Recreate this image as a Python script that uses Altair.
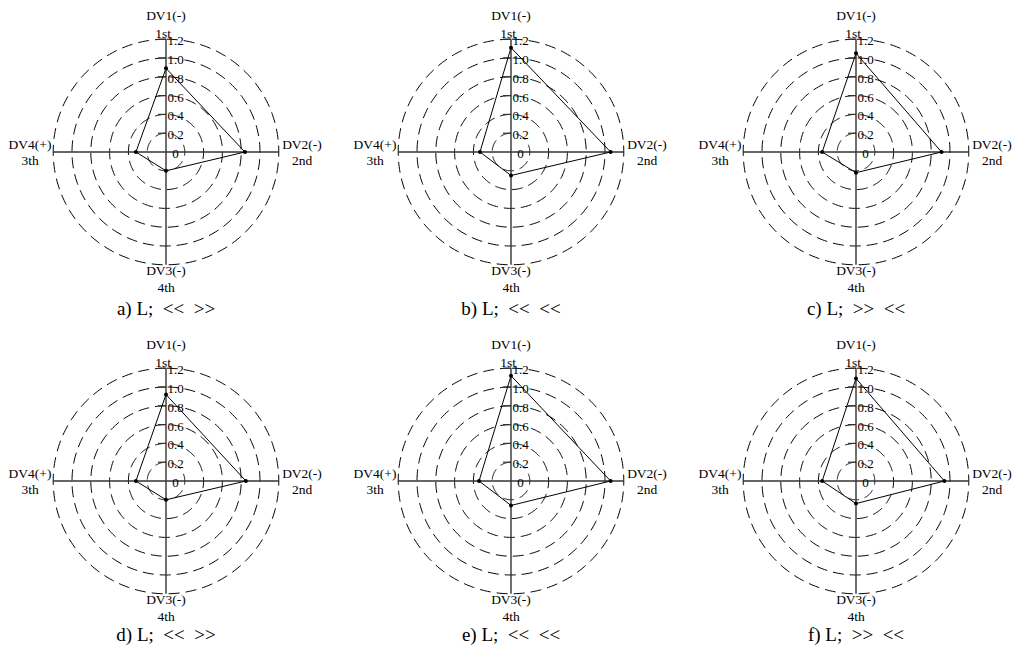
import altair as alt
import numpy as np
import pandas as pd

# ---------------- data ----------------
SP = "\u2002"
captions = ["a) L;" + SP + "<<" + SP + ">>", "b) L;" + SP + "<<" + SP + "<<",
            "c) L;" + SP + ">>" + SP + "<<", "d) L;" + SP + "<<" + SP + ">>",
            "e) L;" + SP + "<<" + SP + "<<", "f) L;" + SP + ">>" + SP + "<<"]
axis_names = ["DV1(-)", "DV2(-)", "DV3(-)", "DV4(+)"]
axis_ranks = ["1st", "2nd", "4th", "3th"]
axis_angles = [90, 0, 270, 180]          # degrees: top, right, bottom, left
ring_levels = [0.2, 0.4, 0.6, 0.8, 1.0, 1.2]
tick_values = [0.0, 0.2, 0.4, 0.6, 0.8, 1.0, 1.2]
tick_labels = ["0", "0.2", "0.4", "0.6", "0.8", "1.0", "1.2"]

dv1 = [0.89, 1.11, 1.05, 0.92, 1.12, 1.09]
dv2 = [0.84, 1.06, 0.91, 0.85, 1.06, 0.94]
dv3 = [0.20, 0.25, 0.22, 0.20, 0.26, 0.24]
dv4 = [0.32, 0.33, 0.36, 0.32, 0.34, 0.36]

FONT = "Liberation Serif"
R_MAX = 1.2
PX = 94.0  # pixels per unit


def panel(i, width, height):
    xdom = [-158 / PX, (width - 158) / PX]
    ydom = [-(height - 144) / PX, 144 / PX]
    xs = alt.Scale(domain=xdom, nice=False, zero=False)
    ys = alt.Scale(domain=ydom, nice=False, zero=False)
    X = lambda f: alt.X(f, scale=xs, axis=None)
    Y = lambda f: alt.Y(f, scale=ys, axis=None)

    # dashed concentric rings
    th = np.linspace(np.pi / 2, np.pi / 2 + 2 * np.pi, 241)
    rows = []
    for lv in ring_levels:
        for k, t in enumerate(th):
            rows.append({"ring": lv, "k": k, "x": lv * np.cos(t), "y": lv * np.sin(t)})
    rings = alt.Chart(pd.DataFrame(rows)).mark_line(
        color="black", strokeWidth=1, strokeDash=[11, 6]
    ).encode(x=X("x:Q"), y=Y("y:Q"), detail="ring:N", order="k:Q")

    # spokes
    sp = pd.DataFrame({
        "x": [0.0] * 4, "y": [0.0] * 4,
        "x2": [R_MAX * np.cos(np.radians(a)) for a in axis_angles],
        "y2": [R_MAX * np.sin(np.radians(a)) for a in axis_angles],
    })
    spokes = alt.Chart(sp).mark_rule(color="#333", strokeWidth=1.4).encode(
        x=X("x:Q"), y=Y("y:Q"), x2="x2:Q", y2="y2:Q")

    # tick marks on first spoke
    tk = pd.DataFrame({"y": ring_levels})
    tk["x"] = -8 / PX
    tk["x2"] = 0.0
    ticks = alt.Chart(tk).mark_rule(color="#333", strokeWidth=1.2).encode(
        x=X("x:Q"), x2="x2:Q", y=Y("y:Q"))

    # tick labels
    tl = pd.DataFrame({"v": tick_values, "t": tick_labels})
    tl["x"] = 9.5 / PX
    tlab = alt.Chart(tl).mark_text(
        font=FONT, fontSize=13, align="center", baseline="middle", dy=2, color="black"
    ).encode(x=X("x:Q"), y=Y("v:Q"), text="t:N")

    # axis names & ranks
    off1, off2 = 136 / PX, 118 / PX
    side = 7 / PX
    an = pd.DataFrame({
        "t": [axis_names[0], axis_ranks[0], axis_names[1], axis_ranks[1],
              axis_names[2], axis_ranks[2], axis_names[3], axis_ranks[3]],
        "x": [0, -3 / PX, off1, off1, 0, 0, -off1, -off1],
        "y": [off1, off2, side, -9 / PX, -off2 - 1 / PX, -off1, side, -9 / PX],
    })
    alab = alt.Chart(an).mark_text(
        font=FONT, fontSize=13.5, align="center", baseline="middle", color="black"
    ).encode(x=X("x:Q"), y=Y("y:Q"), text="t:N")

    # data polygon
    vals = [dv1[i], dv2[i], dv3[i], dv4[i]]
    pg = pd.DataFrame({
        "k": list(range(4)),
        "v": vals,
        "x": [v * np.cos(np.radians(a)) for v, a in zip(vals, axis_angles)],
        "y": [v * np.sin(np.radians(a)) for v, a in zip(vals, axis_angles)],
    })
    poly = alt.Chart(pg).mark_line(
        color="black", strokeWidth=1, interpolate="linear-closed"
    ).encode(x=X("x:Q"), y=Y("y:Q"), order="k:Q")
    pts = alt.Chart(pg).mark_circle(color="black", size=16, opacity=1).encode(
        x=X("x:Q"), y=Y("y:Q"))

    # caption
    cy = -163 / PX if i < 3 else -160 / PX
    cap = alt.Chart(pd.DataFrame({"t": [captions[i]], "x": [0.0], "y": [cy]})).mark_text(
        font=FONT, fontSize=19, align="center", baseline="alphabetic", color="black"
    ).encode(x=X("x:Q"), y=Y("y:Q"), text="t:N")

    return alt.layer(rings, spokes, ticks, poly, pts, tlab, alab, cap).properties(
        width=width, height=height)


row1 = alt.hconcat(panel(0, 345, 329), panel(1, 345, 329), panel(2, 315, 329), spacing=0)
row2 = alt.hconcat(panel(3, 345, 308), panel(4, 345, 308), panel(5, 315, 308), spacing=0)
chart = alt.vconcat(row1, row2, spacing=0).properties(padding=0).configure_view(stroke=None)

chart.save("out.html", embed_options={"renderer": "svg", "actions": False})
